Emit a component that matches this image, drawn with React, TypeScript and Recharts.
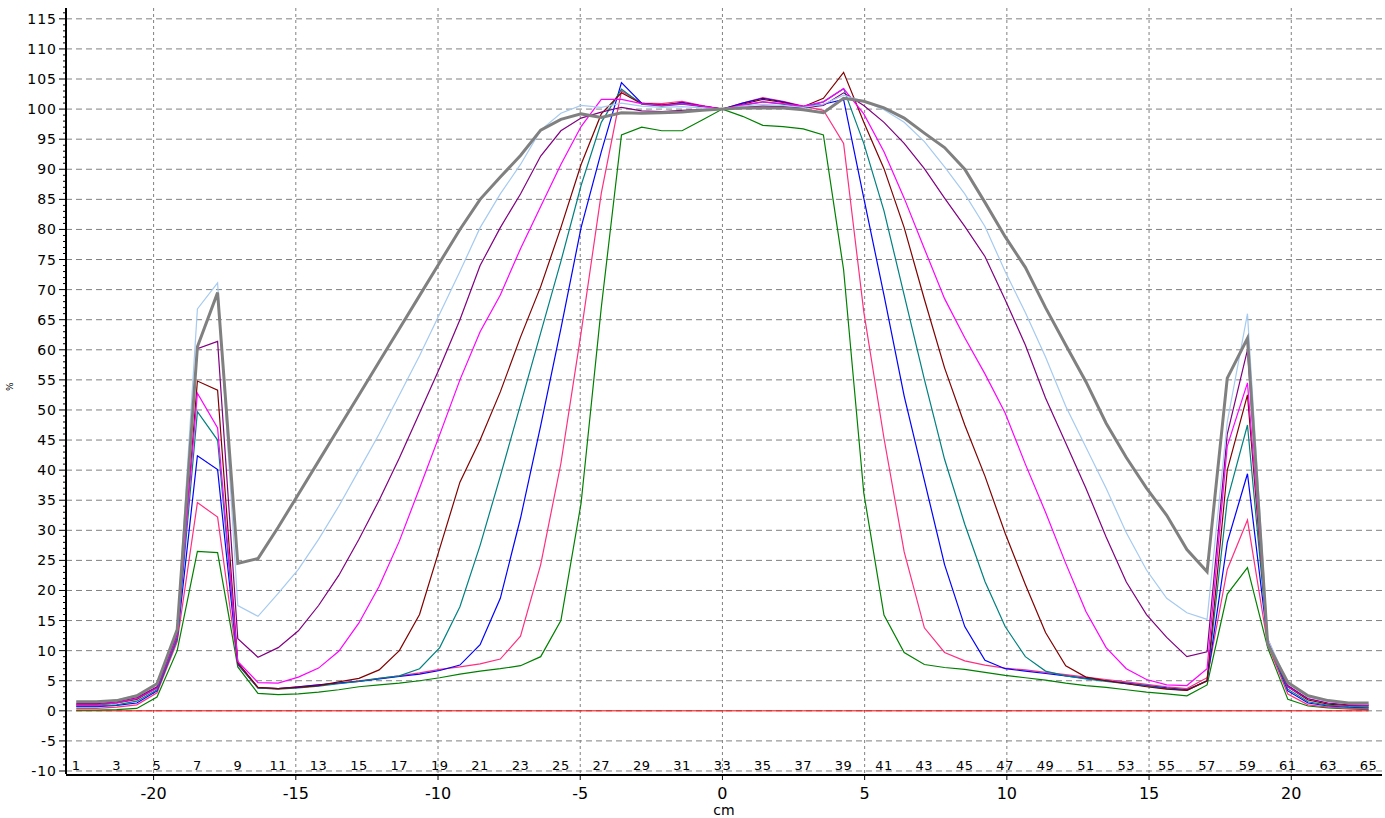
import { LineChart, Line, XAxis, YAxis, CartesianGrid } from "recharts";

const STEP_CM = 0.71;
const CENTER_POINT = 33;
const POINT_INDEX = Array.from({ length: 65 }, (_, i) => i + 1);
const INDEX_LABELS = POINT_INDEX.filter(n => n % 2 === 1);
const CM_TICKS = [-20, -15, -10, -5, 0, 5, 10, 15, 20];
const PCT_TICKS = [-10, -5, 0, 5, 10, 15, 20, 25, 30, 35, 40, 45, 50, 55, 60, 65, 70, 75, 80, 85, 90, 95, 100, 105, 110, 115];
const PCT_MINOR = Array.from({ length: 127 }, (_, i) => i - 10);
const X_DOMAIN = [-23.08, 23.19];
const Y_DOMAIN = [-10.5, 116.8];

const GRAY = [
  1.5, 1.5, 1.7, 2.5, 4.5, 13.5, 60.5, 69.5, 24.5, 25.3,
  30.5, 36, 41.5, 47, 52.5, 58, 63.5, 69, 74.5, 80,
  85, 88.7, 92.3, 96.5, 98.3, 99.2, 98.6, 99.4, 99.3, 99.4,
  99.5, 99.8, 100, 100.2, 100.2, 100.2, 99.9, 99.4, 101.8, 101.3,
  100.2, 98.5, 96, 93.6, 90, 84.5, 78.8, 73.7, 67, 60.8,
  54.7, 47.8, 42.1, 37, 32.5, 26.8, 23.1, 55.3, 61.9, 11.1,
  4.7, 2.5, 1.7, 1.3, 1.3,
];
const LIGHT_BLUE = [
  1.5, 1.5, 1.8, 2.6, 4.3, 13.5, 66.8, 71.1, 17.5, 15.7,
  19.5, 23.5, 28.5, 34, 40, 46, 52.5, 59, 66, 73,
  80.3, 85.9, 90.8, 96.5, 99.3, 100.6, 100.3, 101, 100.5, 100.3,
  100.4, 100.2, 100, 100.5, 100.8, 100.6, 100.3, 100.8, 102.3, 101.3,
  99.9, 97.8, 94.6, 90.4, 85.9, 80.5, 73, 66.2, 58.8, 50.6,
  43.8, 37, 29.6, 23.4, 18.7, 16.3, 15.2, 48, 66, 12,
  4.5, 2.3, 1.5, 1.2, 1.1,
];
const PURPLE = [
  1.2, 1.2, 1.5, 2.2, 4.0, 13, 60.2, 61.4, 12, 8.9,
  10.5, 13.3, 17.5, 22.5, 28.5, 35, 42, 49.5, 57, 65,
  74, 80.3, 85.9, 92.2, 96.4, 98.5, 99.5, 100.3, 99.7, 99.6,
  99.8, 99.9, 100, 100.3, 100.5, 100.4, 100.2, 100.6, 102.7, 100.6,
  97.8, 94.3, 90.1, 85.2, 80.5, 75.5, 68.3, 60.8, 52, 44.5,
  37, 28.9, 21.4, 16, 12.2, 9, 9.8, 46, 60, 11.5,
  4.2, 2.0, 1.3, 1.0, 1.0,
];
const MAGENTA = [
  1.0, 1.0, 1.3, 2.0, 3.8, 12.5, 52.8, 47, 8.2, 4.7,
  4.6, 5.6, 7.1, 9.9, 14.6, 20.7, 28.2, 37, 45.9, 55,
  63, 69.1, 76.8, 83.8, 90.8, 97.1, 101.6, 101.6, 100.9, 100.6,
  100.9, 100.5, 100, 100.7, 101.2, 100.9, 100.5, 101.2, 103.4, 99.2,
  92.9, 85.2, 76.8, 68.5, 62, 56, 49.5, 41, 33, 24.5,
  16.5, 10.5, 7, 5.2, 4.3, 4.2, 7, 44, 54.5, 12,
  4, 2, 1.3, 1.0, 0.9,
];
const BROWN = [
  1.0, 1.0, 1.3, 1.9, 3.8, 12.5, 54.8, 53.3, 8.0, 3.9,
  3.7, 3.9, 4.2, 4.8, 5.4, 6.8, 10, 16, 27, 38,
  45, 53, 62.1, 70.5, 80.3, 90.8, 99.2, 102.7, 100.9, 100.7,
  101, 100.5, 100, 100.8, 101.6, 101.1, 100.4, 101.8, 106.1, 97.8,
  90.1, 80.3, 68.4, 57, 47.5, 39, 29.5, 21, 13, 7.5,
  5.6, 5, 4.5, 4, 3.6, 3.4, 5, 40, 52.5, 11.5,
  4, 1.8, 1.1, 0.9, 0.8,
];
const TEAL = [
  0.8, 0.8, 1.0, 1.6, 3.5, 12, 49.7, 45, 7.9, 3.8,
  3.6, 3.8, 4.1, 4.5, 4.9, 5.4, 5.8, 7, 10.5, 17.3,
  27.5, 39, 50.9, 62.8, 74.7, 87.3, 97.8, 103.3, 100.8, 100.5,
  100.8, 100.4, 100, 100.6, 101.2, 100.8, 100.3, 101.2, 103.4, 94.3,
  83.1, 69.1, 55.1, 41.8, 31, 21.5, 14, 9, 6.6, 5.8,
  5.3, 4.9, 4.5, 4.1, 3.7, 3.4, 5, 35, 47.5, 11.5,
  3.6, 1.5, 0.9, 0.7, 0.6,
];
const BLUE = [
  0.7, 0.7, 0.9, 1.3, 3.3, 12, 42.4, 40.1, 7.8, 3.8,
  3.7, 4.0, 4.3, 4.6, 4.9, 5.3, 5.7, 6.1, 6.7, 7.6,
  11, 18.7, 32, 47.4, 63.5, 80.3, 92.9, 104.4, 101, 100.6,
  101.1, 100.5, 100, 101, 101.8, 101.2, 100.4, 100.8, 101.6, 85.2,
  69.1, 52.3, 38.3, 24.3, 14, 8.4, 7, 6.6, 6.2, 5.8,
  5.4, 5, 4.6, 4.2, 3.8, 3.5, 5, 28, 39.4, 11.5,
  3.3, 1.3, 0.8, 0.6, 0.5,
];
const PINK = [
  0.4, 0.4, 0.6, 1.0, 3.0, 11.5, 34.6, 32.2, 7.7, 3.8,
  3.7, 4.0, 4.3, 4.6, 5.0, 5.4, 5.8, 6.3, 6.9, 7.3,
  7.8, 8.6, 12.4, 24.3, 41.1, 62.8, 86, 103, 101, 100.9,
  101.3, 100.6, 100, 101, 101.9, 101.3, 100.5, 99.8, 94.3, 66.3,
  45.3, 26.4, 13.8, 9.7, 8.3, 7.6, 7.1, 6.8, 6.4, 6,
  5.6, 5.2, 4.8, 4.4, 4, 3.7, 5.5, 23.5, 31.7, 11,
  2.8, 1.0, 0.6, 0.4, 0.3,
];
const GREEN = [
  0.1, 0.1, 0.2, 0.4, 2.3, 10, 26.5, 26.3, 7.3, 2.9,
  2.7, 2.8, 3.1, 3.5, 4.0, 4.3, 4.6, 5.0, 5.5, 6.1,
  6.6, 7.0, 7.5, 9, 15, 34.5, 67, 95.7, 97, 96.4,
  96.4, 98.2, 100, 98.8, 97.3, 97.1, 96.7, 95.7, 73.3, 36.2,
  15.9, 9.7, 7.7, 7.2, 6.9, 6.4, 5.9, 5.5, 5.1, 4.6,
  4.2, 3.9, 3.5, 3.1, 2.8, 2.5, 4.3, 19.4, 23.8, 10.5,
  1.9, 0.8, 0.5, 0.3, 0.2,
];
const ZERO = [
  0, 0, 0, 0, 0, 0, 0, 0, 0, 0, 0, 0, 0, 0, 0, 0, 0, 0, 0, 0,
  0, 0, 0, 0, 0, 0, 0, 0, 0, 0, 0, 0, 0, 0, 0, 0, 0, 0, 0, 0,
  0, 0, 0, 0, 0, 0, 0, 0, 0, 0, 0, 0, 0, 0, 0, 0, 0, 0, 0, 0,
  0, 0, 0, 0, 0,
];

// drawn in this order, gray last so it sits on top
const SERIES = [
  { key: "zero", color: "#ff0000", width: 1, values: ZERO },
  { key: "green", color: "#008000", width: 1.2, values: GREEN },
  { key: "pink", color: "#ff2f80", width: 1.2, values: PINK },
  { key: "blue", color: "#0000ff", width: 1.2, values: BLUE },
  { key: "teal", color: "#008080", width: 1.2, values: TEAL },
  { key: "brown", color: "#800000", width: 1.2, values: BROWN },
  { key: "magenta", color: "#ff00ff", width: 1.2, values: MAGENTA },
  { key: "purple", color: "#800080", width: 1.2, values: PURPLE },
  { key: "lightBlue", color: "#a6caf0", width: 1.2, values: LIGHT_BLUE },
  { key: "gray", color: "#808080", width: 3, values: GRAY },
];

const rows = POINT_INDEX.map((n, i) => {
  const row: Record<string, number> = { x: (n - CENTER_POINT) * STEP_CM };
  SERIES.forEach(s => { row[s.key] = s.values[i]; });
  return row;
});

const IDX_POS = INDEX_LABELS.map(n => (n - CENTER_POINT) * STEP_CM);

const IdxTick = (props: any) => {
  const { x, y, payload } = props;
  const n = Math.round(payload.value / STEP_CM) + CENTER_POINT;
  return (
    <text x={x} y={y - 4} textAnchor="middle" fontSize={13} letterSpacing={0.5} fill="#000">{n}</text>
  );
};

const PctTick = (props: any) => {
  const { x, y, payload } = props;
  const v = payload.value;
  const major = v % 5 === 0;
  return (
    <g>
      <line x1={x + (major ? 1 : 5)} x2={x + 8} y1={y} y2={y} stroke="#000" />
      {major && (
        <text x={x - 1} y={y} dy={5} textAnchor="end" fontSize={14} letterSpacing={1} fill="#000">{v}</text>
      )}
    </g>
  );
};

export default function App() {
  return (
    <div style={{ width: 1385, height: 818, background: "#fff", fontFamily: "'DejaVu Sans', sans-serif" }}>
      <style>{"body{margin:0}"}</style>
      <LineChart width={1385} height={818} data={rows} margin={{ top: 8, right: 3, bottom: 1, left: 6 }}>
        <CartesianGrid xAxisId="b_cm" yAxisId="pct" horizontal={false} verticalValues={CM_TICKS}
          stroke="#808080" strokeDasharray="3 3" />
        <CartesianGrid xAxisId="b_cm" yAxisId="pct" vertical={false} horizontalValues={PCT_TICKS}
          stroke="#808080" strokeDasharray="6 4" />
        <XAxis xAxisId="b_cm" dataKey="x" type="number" domain={X_DOMAIN} ticks={CM_TICKS} interval={0}
          height={42} tickSize={5} tickMargin={8}
          axisLine={{ stroke: "#000", strokeWidth: 2 }} tickLine={{ stroke: "#000" }}
          tick={{ fontSize: 16, fill: "#000" }}
          label={{ value: "cm", position: "insideBottom", offset: 2, fontSize: 14, fill: "#000" }} />
        <XAxis xAxisId="a_idx" dataKey="x" type="number" domain={X_DOMAIN} ticks={IDX_POS} interval={0}
          height={1} tickSize={0} tickMargin={0} axisLine={false} tickLine={false} tick={IdxTick} />
        <YAxis yAxisId="pct" type="number" domain={Y_DOMAIN} ticks={PCT_MINOR} interval={0}
          width={60} tickSize={6} tickMargin={2} tickLine={false}
          axisLine={{ stroke: "#000", strokeWidth: 2 }} tick={PctTick}
          label={{ value: "%", angle: -90, position: "insideLeft", offset: 4, fontSize: 9, fill: "#000" }} />
        <YAxis yAxisId="frame" orientation="right" type="number" domain={Y_DOMAIN} width={0}
          tick={false} tickLine={false} axisLine={{ stroke: "#000", strokeWidth: 2 }} />
        {SERIES.map(s => (
          <Line key={s.key} xAxisId="b_cm" yAxisId="pct" type="linear" dataKey={s.key}
            stroke={s.color} strokeWidth={s.width} dot={false} activeDot={false}
            isAnimationActive={false} />
        ))}
      </LineChart>
    </div>
  );
}
